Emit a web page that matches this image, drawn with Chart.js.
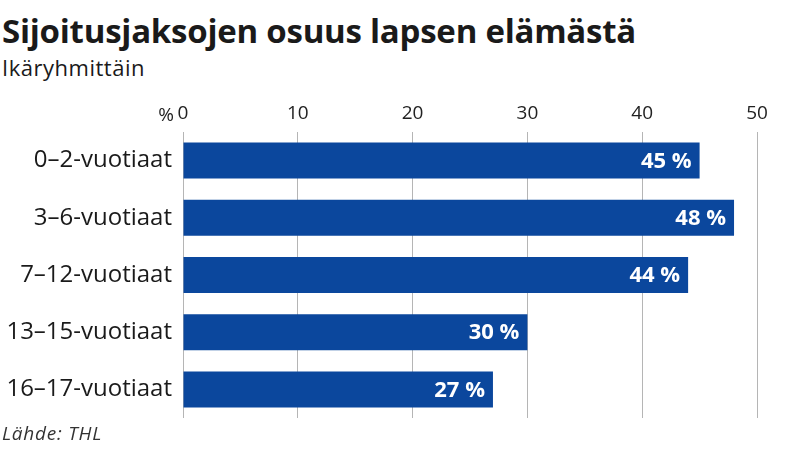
<!DOCTYPE html>
<html>
<head>
<meta charset="utf-8">
<script src="https://cdn.jsdelivr.net/npm/chart.js@4"></script>
<style>
  html, body { margin: 0; padding: 0; background: #fff; width: 800px; height: 450px; overflow: hidden; }
  .txt { position: absolute; left: 2px; white-space: nowrap; color: #1a1a1a; font-family: "Open Sans", sans-serif; }
  #title { top: 11px; font-weight: 700; font-size: 33px; line-height: 1.2; }
  #subtitle { top: 54px; font-weight: 400; font-size: 22px; line-height: 1.2; }
  #source { top: 422px; font-style: italic; font-size: 19px; color: #333; line-height: 1.2; }
  #c { position: absolute; left: 0; top: 95px; }
</style>
</head>
<body>
<div id="title" class="txt">Sijoitusjaksojen osuus lapsen elämästä</div>
<div id="subtitle" class="txt">Ikäryhmittäin</div>
<canvas id="c" width="800" height="330" style="width:800px;height:330px"></canvas>
<div id="source" class="txt">Lähde: THL</div>
<script>
const categories = ["0–2-vuotiaat", "3–6-vuotiaat", "7–12-vuotiaat", "13–15-vuotiaat", "16–17-vuotiaat"];
const values = [45, 48, 44, 30, 27];
const tickValues = [0, 10, 20, 30, 40, 50];
const unitLabel = "%";

function fitWidth(id, target) {
  const el = document.getElementById(id);
  const w = el.getBoundingClientRect().width;
  const n = el.textContent.length;
  el.style.letterSpacing = ((target - w) / n) + 'px';
}
fitWidth('title', 634);
fitWidth('subtitle', 143);
fitWidth('source', 100);

const valueLabels = {
  id: 'valueLabels',
  afterDatasetsDraw(chart) {
    const ctx = chart.ctx;
    const meta = chart.getDatasetMeta(0);
    ctx.save();
    ctx.fillStyle = '#fff';
    ctx.font = '700 22px "Open Sans", sans-serif';
    ctx.textAlign = 'right';
    ctx.textBaseline = 'middle';
    meta.data.forEach((bar, i) => {
      ctx.fillText(values[i] + ' %', bar.x - 8, bar.y + 1);
    });
    const xs = chart.scales.x;
    ctx.fillStyle = '#222';
    ctx.font = '400 19px "Open Sans", sans-serif';
    ctx.textAlign = 'right';
    ctx.textBaseline = 'bottom';
    ctx.fillText(unitLabel, xs.getPixelForValue(0) - 9, xs.bottom - 7);
    ctx.restore();
  }
};

new Chart(document.getElementById('c'), {
  type: 'bar',
  data: {
    labels: categories,
    datasets: [{
      data: values,
      backgroundColor: '#0b479d',
      borderWidth: 0,
      categoryPercentage: 1,
      barPercentage: 0.63
    }]
  },
  options: {
    indexAxis: 'y',
    responsive: false,
    devicePixelRatio: 1,
    animation: false,
    layout: { padding: { left: 0, right: 43, top: 0, bottom: 7 } },
    plugins: { legend: { display: false }, tooltip: { enabled: false } },
    scales: {
      x: {
        position: 'top',
        min: 0, max: 50,
        afterBuildTicks(scale) { scale.ticks = tickValues.map(v => ({ value: v })); },
        afterFit(scale) { scale.height = 37; scale.paddingLeft = 0; scale.paddingRight = 0; },
        grid: { color: '#b5b5b5', lineWidth: 1, drawTicks: false },
        border: { display: false },
        ticks: { color: '#222', font: { family: '"Open Sans", sans-serif', size: 19 }, padding: 7 }
      },
      y: {
        afterFit(scale) { scale.width = 183; scale.paddingTop = 0; scale.paddingBottom = 0; },
        grid: { display: false, drawTicks: false },
        border: { display: false },
        ticks: { color: '#1a1a1a', font: { family: '"Open Sans", sans-serif', size: 24 }, padding: 11 }
      }
    }
  },
  plugins: [valueLabels]
});
</script>
</body>
</html>
